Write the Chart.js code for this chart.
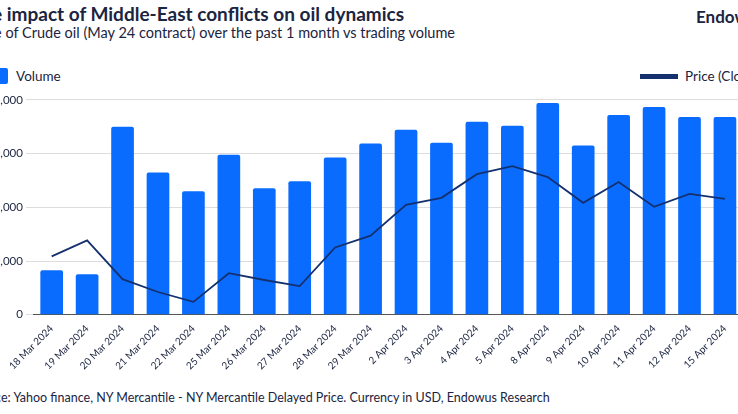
<!DOCTYPE html>
<html lang="en">
<head>
  <meta charset="UTF-8">
  <title>Oil dynamics</title>
  <script src="https://cdn.jsdelivr.net/npm/chart.js"></script>
  <style>
    body { margin: 0; width: 738px; height: 414px; overflow: hidden; position: relative; font-family: Lato, "Open Sans", sans-serif; color: #1b2440; background: #fff; }
    .wrap { position: absolute; left: -30px; top: 0; width: 800px; height: 414px; }
    h1 { position: absolute; left: 0; top: 2px; margin: 0; font-size: 19px; font-weight: 700; white-space: nowrap; }
    .sub { position: absolute; left: 0; top: 24px; font-size: 14.5px; white-space: nowrap; }
    .brand { position: absolute; left: 726px; top: 6px; font-size: 17px; font-weight: 700; }
    .leg { position: absolute; top: 68px; font-size: 13.5px; white-space: nowrap; display: flex; align-items: center; }
    .box { width: 38px; height: 16px; background: #0a6cff; border-radius: 2px; margin-right: 8px; margin-left: -30px; }
    .ln { width: 38px; height: 5px; background: #14306e; margin-right: 7px; }
    .chart { position: absolute; left: 0; top: 90px; width: 800px; height: 282px; }
    .src { position: absolute; left: 0; top: 390px; font-size: 12.5px; white-space: nowrap; }
  </style>
</head>
<body>
  <div class="wrap">
    <h1>The impact of Middle-East conflicts on oil dynamics</h1>
    <div class="sub">Price of Crude oil (May 24 contract) over the past 1 month vs trading volume</div>
    <div class="brand">Endowus</div>
    <div class="leg" style="left:30px"><span class="box"></span>Volume</div>
    <div class="leg" style="left:670px"><span class="ln"></span>Price (Close)</div>
    <div class="chart"><canvas id="c"></canvas></div>
    <div class="src">Source: Yahoo finance, NY Mercantile - NY Mercantile Delayed Price. Currency in USD, Endowus Research</div>
  </div>
  <script>
    const dates = ['18 Mar 2024','19 Mar 2024','20 Mar 2024','21 Mar 2024','22 Mar 2024','25 Mar 2024','26 Mar 2024','27 Mar 2024','28 Mar 2024','29 Mar 2024','2 Apr 2024','3 Apr 2024','4 Apr 2024','5 Apr 2024','8 Apr 2024','9 Apr 2024','10 Apr 2024','11 Apr 2024','12 Apr 2024','15 Apr 2024'];
    const volume = [8290,7550,35000,26500,23000,29800,23570,24860,29280,31860,34440,32040,35910,35170,39410,31490,37200,38670,36830,36830];
    const price = [83.26,84.15,81.99,81.27,80.72,82.32,81.94,81.60,83.76,84.42,86.14,86.53,87.85,88.30,87.69,86.25,87.41,86.03,86.75,86.47];

    new Chart(document.getElementById('c'), {
      data: {
        labels: dates,
        datasets: [
          { type: 'line', label: 'Price (Close)', data: price, yAxisID: 'y1', borderColor: '#14306e', borderWidth: 1.8, pointRadius: 0, tension: 0, order: 0 },
          { type: 'bar', label: 'Volume', data: volume, yAxisID: 'y', backgroundColor: '#0a6cff', borderRadius: 2, categoryPercentage: 0.8, barPercentage: 0.8, order: 1 }
        ]
      },
      options: {
        responsive: true,
        maintainAspectRatio: false,
        animation: false,
        layout: { padding: { top: 6, left: 14 } },
        plugins: { legend: { display: false }, tooltip: { enabled: false } },
        scales: {
          x: {
            grid: { display: false },
            border: { color: '#555' },
            ticks: { color: '#1b2440', font: { family: 'Lato', size: 10 }, maxRotation: 45, minRotation: 45, autoSkip: false, padding: 0 }
          },
          y: {
            min: 0, max: 40000,
            ticks: { stepSize: 10000, color: '#1b2440', font: { family: 'Lato', size: 11.5 }, callback: v => v.toLocaleString('en-US') },
            grid: { color: '#dddddd' },
            border: { display: false }
          },
          y1: {
            position: 'right', min: 80, max: 92,
            ticks: { stepSize: 3, color: '#1b2440', font: { family: 'Lato', size: 11.5 } },
            grid: { display: false },
            border: { display: false }
          }
        }
      }
    });
  </script>
</body>
</html>
